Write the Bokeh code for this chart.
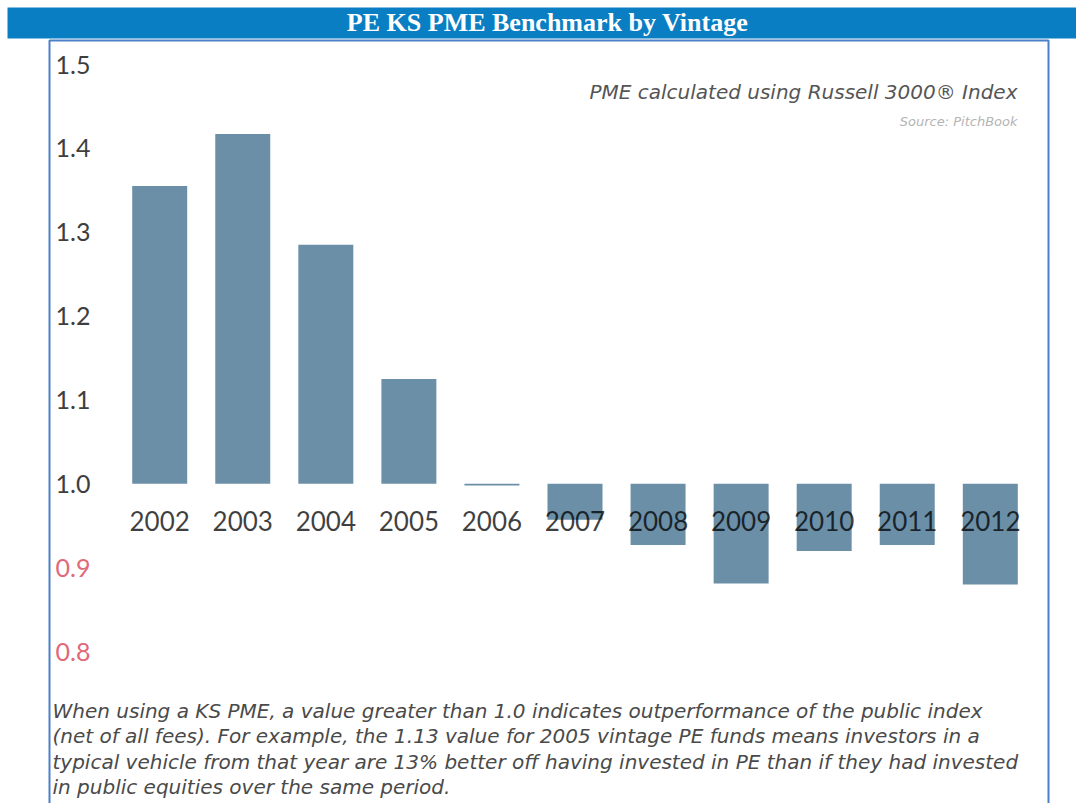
from bokeh.plotting import figure
from bokeh.models import (Range1d, FixedTicker, PrintfTickFormatter, BoxAnnotation,
                          Label, LabelSet, ColumnDataSource)
from bokeh.core.properties import value
from bokeh.embed import file_html
from bokeh.resources import INLINE

# ---- data ----
vintages = [2002, 2003, 2004, 2005, 2006, 2007, 2008, 2009, 2010, 2011, 2012]
vintage_labels = [str(v) for v in vintages]
ks_pme = [1.355, 1.417, 1.285, 1.125, 0.998, 0.957, 0.927, 0.881, 0.920, 0.927, 0.880]
baseline = 1.0
ticks_out = [1.0, 1.1, 1.2, 1.3, 1.4, 1.5]
ticks_under = [0.8, 0.9]
ticks_under_labels = ["0.8", "0.9"]

title_text = "PE KS PME Benchmark by Vintage"
note_text = "PME calculated using Russell 3000\u00ae Index"
source_text = "Source: PitchBook"
foot_lines = [
    "When using a KS PME, a value greater than 1.0 indicates outperformance of the public index",
    "(net of all fees). For example, the 1.13 value for 2005 vintage PE funds means investors in a",
    "typical vehicle from that year are 13% better off having invested in PE than if they had invested",
    "in public equities over the same period.",
]

W, H = 1076, 803
p = figure(width=W, height=H, output_backend="svg", toolbar_location=None,
           x_range=Range1d(2000.0833, 2013.0378), y_range=Range1d(0.61877, 1.57632),
           x_axis_location=None, min_border_left=0, min_border_right=0,
           min_border_top=0, min_border_bottom=0)
p.grid.visible = False
p.outline_line_color = None
p.background_fill_color = "white"
p.border_fill_color = "white"

ax = p.yaxis[0]
ax.ticker = FixedTicker(ticks=ticks_out)
ax.formatter = PrintfTickFormatter(format="%.1f")
ax.axis_line_color = None
ax.major_tick_line_color = None
ax.minor_tick_line_color = None
ax.major_tick_out = 0
ax.major_tick_in = 0
ax.major_label_standoff = -90
ax.major_label_text_font = "Lato"
ax.major_label_text_font_size = "25px"
ax.major_label_text_color = "#3e3e3e"

# title bar & panel border
p.add_layout(BoxAnnotation(left=7, right=W, top=7, bottom=38,
                           left_units="canvas", right_units="canvas",
                           top_units="canvas", bottom_units="canvas",
                           fill_color="#0a7ec3", fill_alpha=1, line_color=None, level="underlay"))
p.add_layout(BoxAnnotation(left=49, right=1048, top=40, bottom=H + 10,
                           left_units="canvas", right_units="canvas",
                           top_units="canvas", bottom_units="canvas",
                           fill_alpha=0, line_color="#4a80c8", line_alpha=1, line_width=2,
                           level="underlay"))

p.vbar(x=vintages, bottom=baseline, top=ks_pme, width=0.662,
       fill_color="#6a8fa7", line_color=None)

p.text(x=vintages, y=[baseline] * len(vintages), text=vintage_labels,
       text_font=value("Lato"), text_font_size="26px", text_color="#000000",
       text_alpha=0.75, text_align="center", text_baseline="middle", y_offset=37)

src = ColumnDataSource(dict(y=ticks_under, text=ticks_under_labels, x=[90, 90]))
p.add_layout(LabelSet(x="x", y="y", text="text", source=src, x_units="canvas", y_units="data",
                      text_font=value("Lato"), text_font_size=value("25px"),
                      text_color=value("#e0697a"),
                      text_align=value("right"), text_baseline=value("middle")))

p.add_layout(Label(x=547, y=22, x_units="canvas", y_units="canvas", text=title_text,
                   text_font="Liberation Serif", text_font_style="bold", text_font_size="26px",
                   text_color="white", text_align="center", text_baseline="middle"))

p.add_layout(Label(x=1017, y=91, x_units="canvas", y_units="canvas", text=note_text,
                   text_font="DejaVu Sans", text_font_style="italic", text_font_size="20px",
                   text_color="#555555", text_align="right", text_baseline="middle"))
p.add_layout(Label(x=1017, y=121, x_units="canvas", y_units="canvas", text=source_text,
                   text_font="DejaVu Sans", text_font_style="italic", text_font_size="13px",
                   text_color="#b4b4b4", text_align="right", text_baseline="middle"))

for i, line in enumerate(foot_lines):
    p.add_layout(Label(x=52, y=710 + 25.5 * i, x_units="canvas", y_units="canvas", text=line,
                       text_font="DejaVu Sans", text_font_style="italic", text_font_size="20px",
                       text_color="#4a4a4a", text_align="left", text_baseline="middle"))

open("out.html", "w").write(file_html(p, INLINE))
